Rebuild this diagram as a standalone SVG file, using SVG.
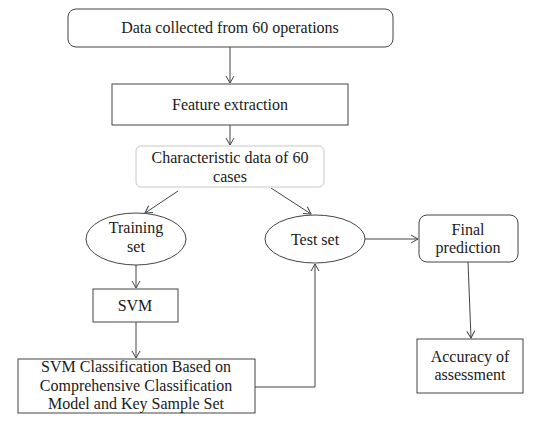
<svg xmlns="http://www.w3.org/2000/svg" width="549" height="421" viewBox="0 0 549 421">
<defs>
<marker id="arr" markerWidth="10" markerHeight="10" refX="8" refY="5" orient="auto" markerUnits="userSpaceOnUse">
<path d="M1,1 L8,5 L1,9" fill="none" stroke="#444" stroke-width="1"/>
</marker>
<style>
text{font-family:"Liberation Serif","Times New Roman",serif;font-size:16px;fill:#1a1a1a;text-anchor:middle}
.b{fill:#fff;stroke:#444;stroke-width:1}
.g{fill:#fff;stroke:#c8c8c8;stroke-width:1}
.c{fill:none;stroke:#444;stroke-width:1;marker-end:url(#arr)}
</style>
</defs>
<rect width="549" height="421" fill="#fff"/>
<g id="connectors">
<line class="c" x1="230" y1="47" x2="230" y2="83"/>
<line class="c" x1="230" y1="125" x2="230" y2="145"/>
<line class="c" x1="178" y1="191" x2="145" y2="213"/>
<line class="c" x1="271" y1="188" x2="311" y2="214"/>
<line class="c" x1="136" y1="265" x2="136" y2="288"/>
<line class="c" x1="136" y1="322" x2="136" y2="358"/>
<polyline class="c" points="255,387 315,387 315,264"/>
<line class="c" x1="365" y1="239" x2="418" y2="239"/>
<line class="c" x1="468" y1="262" x2="471" y2="338"/>
</g>
<g id="data"><rect class="b" x="68" y="9" width="325" height="38" rx="8"/><text x="230" y="33">Data collected from 60 operations</text></g>
<g id="feature"><rect class="b" x="112" y="84" width="236" height="41"/><text x="230" y="110">Feature extraction</text></g>
<g id="characteristic"><rect class="g" x="136" y="146" width="188" height="41" rx="5"/><text x="230" y="163">Characteristic data of 60</text><text x="230" y="182">cases</text></g>
<g id="training"><ellipse class="b" cx="136" cy="239" rx="50" ry="26"/><text x="136" y="233">Training</text><text x="136" y="252">set</text></g>
<g id="test"><ellipse class="b" cx="315" cy="239" rx="50" ry="24"/><text x="315" y="245">Test set</text></g>
<g id="final"><rect class="b" x="419" y="215" width="99" height="47" rx="8"/><text x="468" y="235">Final</text><text x="468" y="253">prediction</text></g>
<g id="svm"><rect class="b" x="93" y="289" width="85" height="33"/><text x="135" y="311">SVM</text></g>
<g id="classification"><rect class="b" x="18" y="359" width="237" height="54"/><text x="136" y="372">SVM Classification Based on</text><text x="136" y="391">Comprehensive Classification</text><text x="136" y="409">Model and Key Sample Set</text></g>
<g id="accuracy"><rect class="b" x="417" y="339" width="106" height="54"/><text x="470" y="362">Accuracy of</text><text x="470" y="380">assessment</text></g>
</svg>
